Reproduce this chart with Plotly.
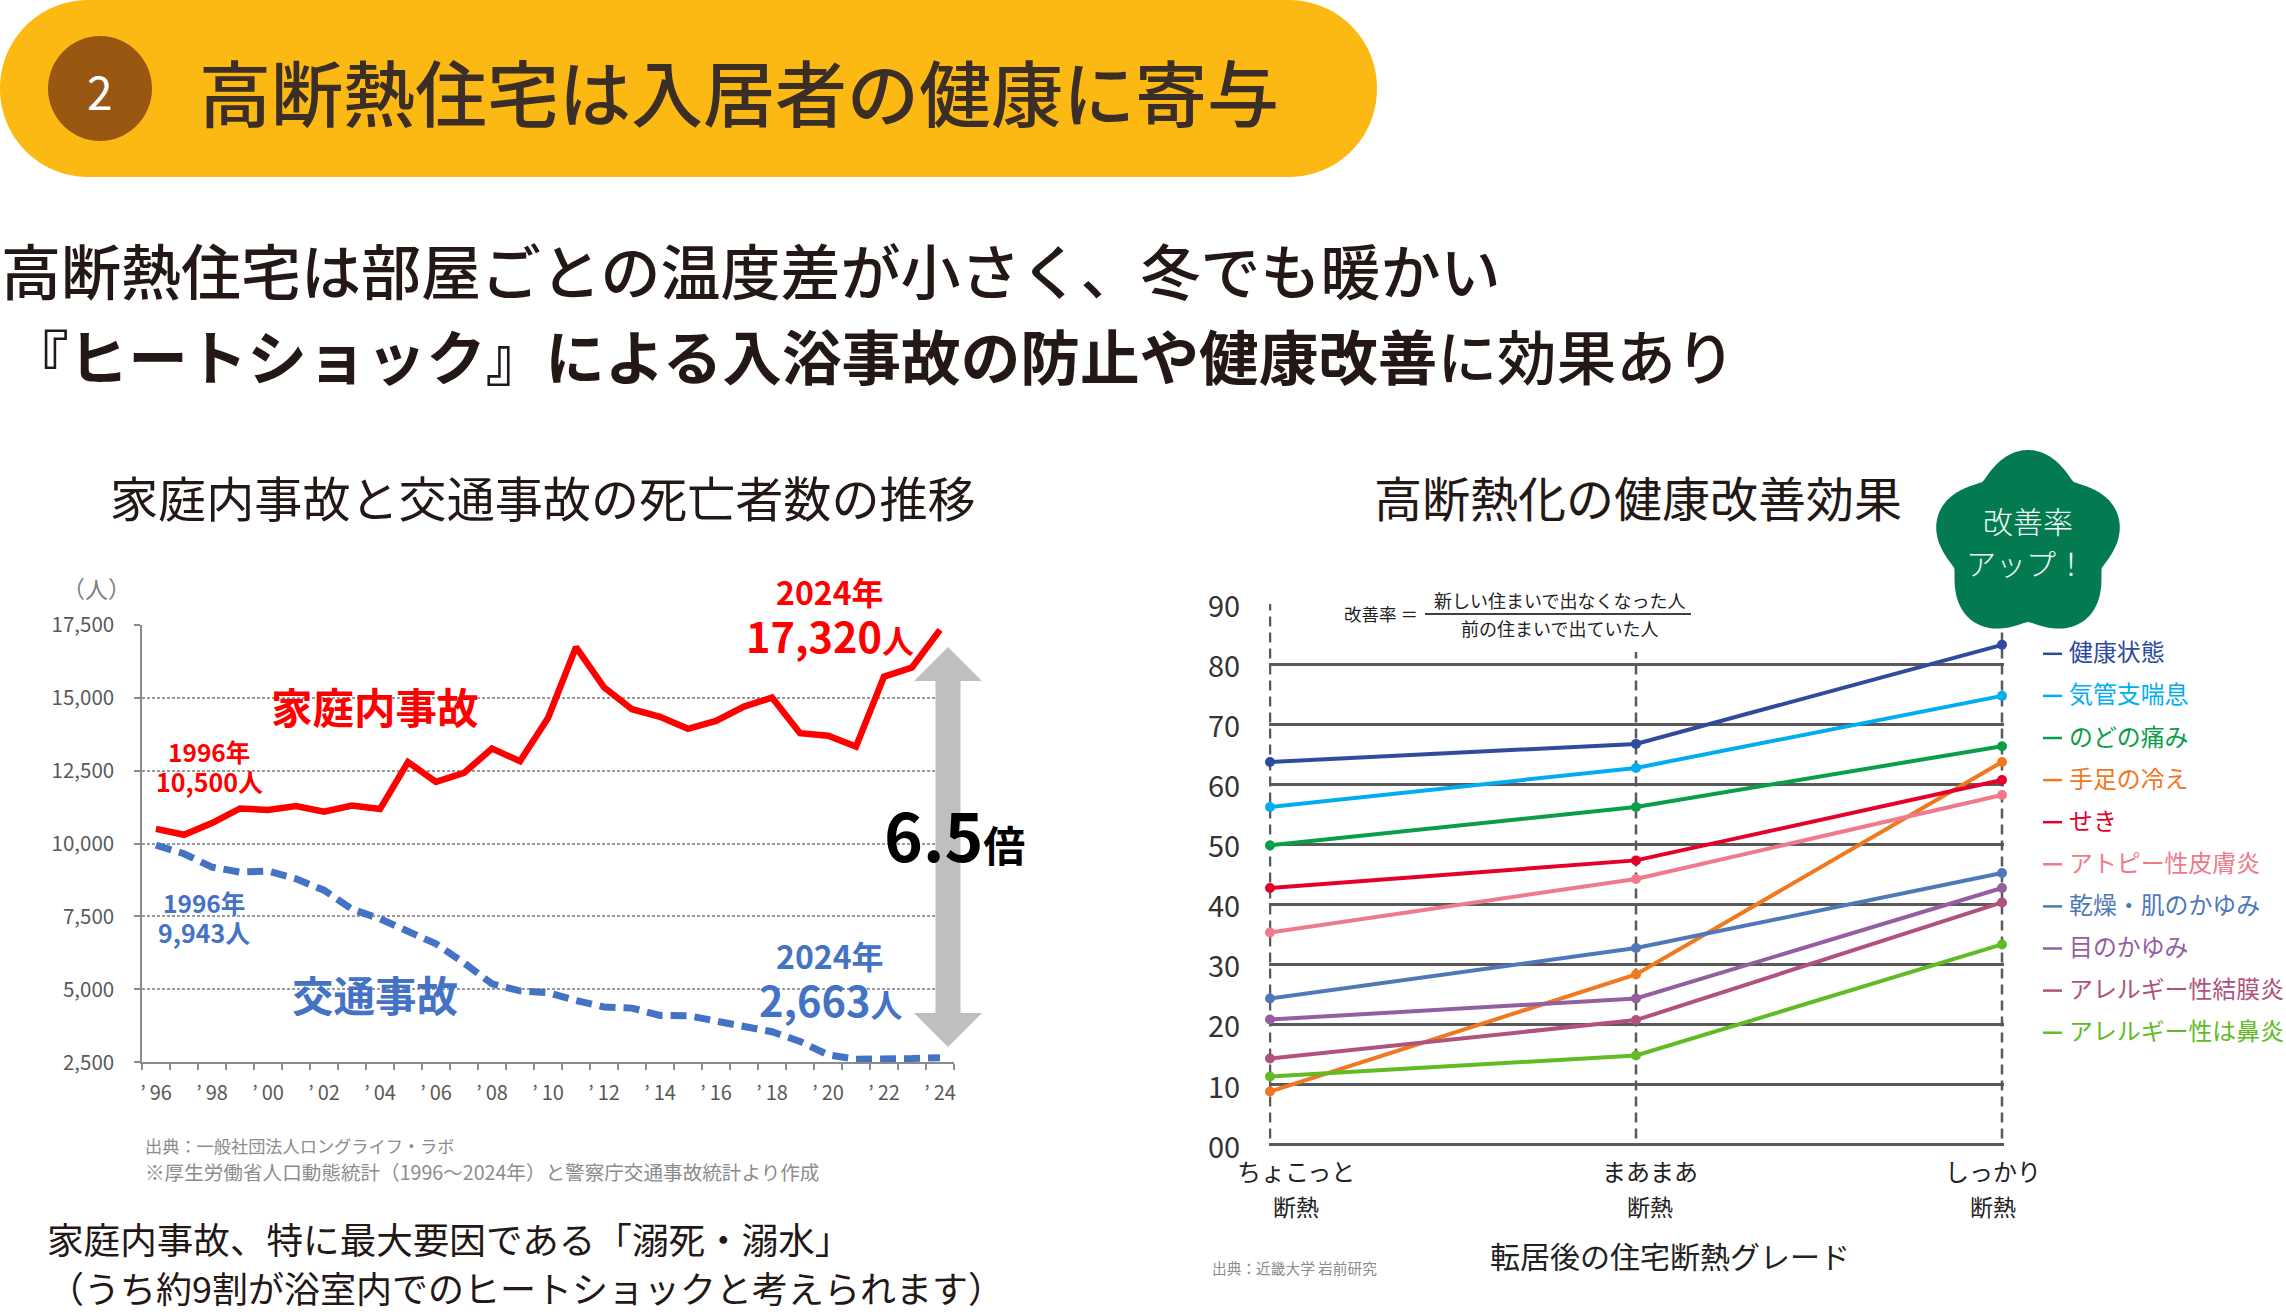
import math
import plotly.graph_objects as go

W, H = 2286, 1314
FONT = "Noto Sans CJK JP"

# ---- left chart data ----
years = [str(y) for y in range(1996, 2025)]
year_ticks = ["’\u2009" + y[2:] if int(y) % 2 == 0 else "" for y in years]
home_deaths = [10500, 10300, 10700, 11200, 11150, 11280, 11090, 11300, 11180, 12790,
               12110, 12420, 13250, 12820, 14300, 16730, 15350, 14600, 14340, 13930,
               14200, 14690, 15000, 13780, 13690, 13320, 15720, 16030, 17320]
traffic_deaths = [9943, 9650, 9190, 9020, 9060, 8790, 8400, 7750, 7420, 7020,
                  6560, 5910, 5190, 4950, 4890, 4620, 4400, 4360, 4110, 4100,
                  3900, 3700, 3550, 3220, 2760, 2610, 2590, 2630, 2663]
left_yticks = [2500, 5000, 7500, 10000, 12500, 15000, 17500]

# ---- right chart data ----
grades = ["ちょこっと断熱", "まあまあ断熱", "しっかり断熱"]
right_yticks = [0, 10, 20, 30, 40, 50, 60, 70, 80, 90]
right_yticktext = ["00", "10", "20", "30", "40", "50", "60", "70", "80", "90"]
symptoms = ["健康状態", "気管支喘息", "のどの痛み", "手足の冷え", "せき",
            "アトピー性皮膚炎", "乾燥・肌のかゆみ", "目のかゆみ", "アレルギー性結膜炎", "アレルギー性は鼻炎"]
kenko = [63.7, 66.7, 83.2]
kikan = [56.2, 62.7, 74.7]
nodo = [49.8, 56.2, 66.3]
teashi = [8.8, 28.3, 63.7]
seki = [42.7, 47.3, 60.7]
atopy = [35.3, 44.2, 58.2]
kanso = [24.3, 32.7, 45.2]
me = [20.8, 24.3, 42.7]
ketsumaku = [14.3, 20.7, 40.3]
bien = [11.3, 14.8, 33.3]
symptom_values = [kenko, kikan, nodo, teashi, seki, atopy, kanso, me, ketsumaku, bien]
symptom_colors = ["#2F4B9E", "#00AEEF", "#0A9E48", "#F0781E", "#E4002B",
                  "#EF7A8C", "#4E78B8", "#945F9E", "#B0527D", "#62BB25"]


def fx(x):
    return x / W


def fy(y):
    return 1 - y / H


annotations = []
TEXT_LIFT = 3


def text(x, y, s, size, color="#222222", anchor="center", weight=400):
    annotations.append(dict(
        x=fx(x), y=fy(y - TEXT_LIFT), xref="paper", yref="paper", text=s, showarrow=False,
        xanchor=anchor, yanchor="middle", align=anchor,
        font=dict(family=FONT, size=size, color=color, weight=weight)))


shapes = []


def poly(points, color, layer="above"):
    path = "M " + " L ".join(f"{fx(x):.5f},{fy(y):.5f}" for x, y in points) + " Z"
    shapes.append(dict(type="path", path=path, xref="paper", yref="paper",
                       fillcolor=color, line=dict(width=0), layer=layer))


def rounded_pill(x0, y0, x1, y1, r, color):
    pts = []
    n = 24
    for cx, cy, a0 in [(x1 - r, y0 + r, -90), (x1 - r, y1 - r, 0), (x0 + r, y1 - r, 90), (x0 + r, y0 + r, 180)]:
        for i in range(n + 1):
            a = math.radians(a0 + 90 * i / n)
            pts.append((cx + r * math.cos(a), cy + r * math.sin(a)))
    poly(pts, color)


# header
rounded_pill(0, 0, 1377, 177, 88, "#FDB913")
shapes.append(dict(type="circle", xref="paper", yref="paper", x0=fx(48), x1=fx(152), y0=fy(36), y1=fy(141),
                   fillcolor="#9A5712", line=dict(width=0), layer="above"))
text(100, 93, "2", 46, "#FFFFFF")
text(197, 92, "高断熱住宅は入居者の健康に寄与", 72, "#3A2E26", "left", 500)

# lead text
text(-1, 271, "高断熱住宅は部屋ごとの温度差が小さく、冬でも暖かい", 60, "#231815", "left", 500)
text(7, 357, "<b>『ヒートショック』による入浴事故の防止や健康改善</b>に効果あり", 59.6, "#231815", "left", 500)

# chart titles
text(543, 499, "家庭内事故と交通事故の死亡者数の推移", 48.1, "#231815")
text(1638, 499, "高断熱化の健康改善効果", 48, "#231815")

# left chart notes
RED, BLUE = "#FF0000", "#4472C4"
text(96, 591, "（人）", 23, "#7F7F7F")
text(830, 594, "<b>2024年</b>", 32, RED)
text(830, 638, "<b>17,320<span style='font-size:32px'>人</span></b>", 41.5, RED)
text(375, 709, "<b>家庭内事故</b>", 41.5, RED)
text(209, 754, "<b>1996年</b>", 24.5, RED)
text(209, 784, "<b>10,500人</b>", 25, RED)
text(204, 905, "<b>1996年</b>", 24.5, BLUE)
text(204, 935, "<b>9,943人</b>", 25, BLUE)
text(375, 997, "<b>交通事故</b>", 41.5, BLUE)
text(830, 958, "<b>2024年</b>", 32, BLUE)
text(830, 1002, "<b>2,663<span style='font-size:32px'>人</span></b>", 41.5, BLUE)
text(954, 836, "<b>6.5<span style='font-size:42px'>倍</span></b>", 66, "#000000")

# grey double arrow
ax, top, bot, hw, hh, sw = 948, 647, 1047, 34, 34, 12.5
poly([(ax, top), (ax + hw, top + hh), (ax + sw, top + hh), (ax + sw, bot - hh), (ax + hw, bot - hh),
      (ax, bot), (ax - hw, bot - hh), (ax - sw, bot - hh), (ax - sw, top + hh), (ax - hw, top + hh)], "#BFBFBF")

# sources and caption
text(143, 1148, "出典：一般社団法人ロングライフ・ラボ", 17.2, "#8C8C8C", "left")
text(143, 1174, "※厚生労働省人口動態統計（1996～2024年）と警察庁交通事故統計より作成", 19.6, "#8C8C8C", "left")
text(45, 1241, "家庭内事故、特に最大要因である「溺死・溺水」", 36.6, "#231815", "left")
text(46, 1290, "（うち約9割が浴室内でのヒートショックと考えられます）", 36, "#231815", "left")

# right chart: formula
shapes.append(dict(type="rect", xref="paper", yref="paper", x0=fx(1332), x1=fx(1704), y0=fy(590), y1=fy(645),
                   fillcolor="#FFFFFF", line=dict(width=0), layer="above"))
shapes.append(dict(type="line", xref="paper", yref="paper", x0=fx(1425), x1=fx(1691), y0=fy(614), y1=fy(614),
                   line=dict(color="#000000", width=1.5), layer="above"))
text(1381, 616, "改善率 ＝", 17.5, "#222222")
text(1559, 603, "新しい住まいで出なくなった人", 18, "#222222")
text(1559, 631, "前の住まいで出ていた人", 18, "#222222")

# right chart: dashed verticals
for grade, top_value in zip(grades, [90, 82, 90]):
    shapes.append(dict(type="line", xref="x2", yref="y2", x0=grade, x1=grade, y0=1, y1=top_value,
                       line=dict(color="#595959", width=2.5, dash="10px,6px"), layer="below"))

# badge
cx, cy, R = 2028, 544.5, 94.5
badge = []
for i in range(360):
    t = math.radians(i)
    k = 0.82 + 0.18 * abs(math.cos(2.5 * t)) ** 1.3
    badge.append((cx + R * k * math.sin(t), cy - R * k * math.cos(t)))
poly(badge, "#047A50")
text(2028, 523, "改善率", 30, "#F0FAF5", weight=300)
text(2026, 565, "アップ！", 30, "#F0FAF5", weight=300)

# legend (coloured names)
for i, (name, color) in enumerate(zip(symptoms, symptom_colors)):
    y = 653.8 + 42.1 * i
    shapes.append(dict(type="line", xref="paper", yref="paper", x0=fx(2043), x1=fx(2062), y0=fy(y), y1=fy(y),
                       line=dict(color=color, width=2.5), layer="above"))
    text(2067, y, name, 23.9, color, "left")

# right chart: category labels
for x, line1 in [(1296, "ちょこっと"), (1650, "まあまあ"), (1993, "しっかり")]:
    text(x, 1173, line1, 24, "#222222")
    text(x, 1209, "断熱", 23, "#222222")
text(1670, 1258, "転居後の住宅断熱グレード", 30, "#222222")
text(1210, 1270, "出典：近畿大学 岩前研究", 14.7, "#8C8C8C", "left")

fig = go.Figure()
fig.add_trace(go.Scatter(x=years, y=home_deaths, mode="lines", name="家庭内事故", xaxis="x", yaxis="y",
                         line=dict(color=RED, width=6.5), cliponaxis=False, showlegend=False))
fig.add_trace(go.Scatter(x=years, y=traffic_deaths, mode="lines", name="交通事故", xaxis="x", yaxis="y",
                         line=dict(color=BLUE, width=7, dash="16px,8px"), cliponaxis=False, showlegend=False))
for name, vals, color in zip(symptoms, symptom_values, symptom_colors):
    fig.add_trace(go.Scatter(x=grades, y=vals, mode="lines+markers", name=name, xaxis="x2", yaxis="y2",
                             line=dict(color=color, width=4), marker=dict(color=color, size=10),
                             cliponaxis=False, showlegend=False))

fig.update_layout(
    width=W, height=H, autosize=False, margin=dict(l=0, r=0, t=0, b=0, pad=0, autoexpand=False),
    paper_bgcolor="#FFFFFF", plot_bgcolor="#FFFFFF", font=dict(family=FONT),
    annotations=annotations, shapes=shapes,
    xaxis=dict(domain=[fx(142), fx(954)], type="category", categoryorder="array", categoryarray=years,
               range=[-0.5, 28.5], tickmode="array", tickvals=years, ticktext=year_ticks,
               tickson="boundaries", ticks="outside", ticklen=6, tickcolor="#8C8C8C", tickwidth=1.5,
               showline=True, linecolor="#8C8C8C", linewidth=1.5, showgrid=False, ticklabelstandoff=12, automargin=False,
               tickangle=0, tickfont=dict(family=FONT, size=20, color="#595959"), anchor="y"),
    yaxis=dict(domain=[fy(1062.4), fy(624.6)], range=[2500, 17500], tickmode="array", tickvals=left_yticks,
               tickformat=",d", ticks="outside", ticklen=6, tickcolor="#8C8C8C", tickwidth=1.5, automargin=False,
               showline=True, linecolor="#8C8C8C", linewidth=1.5, zeroline=False, showgrid=True,
               gridcolor="#999999", gridwidth=1.5, griddash="3px,2px", ticklabelstandoff=16,
               tickfont=dict(family=FONT, size=20.5, color="#595959"), anchor="x"),
    xaxis2=dict(domain=[fx(1269), fx(2004)], type="category", categoryorder="array", categoryarray=grades,
                range=[-1 / 366, 2 + 2 / 366], showticklabels=False, ticks="", showgrid=False, showline=False,
                zeroline=False, anchor="y2", automargin=False),
    yaxis2=dict(domain=[fy(1144.4), fy(604)], range=[0, 90], tickmode="array", tickvals=right_yticks,
                ticktext=right_yticktext, ticks="outside", ticklen=22, tickcolor="rgba(0,0,0,0)", automargin=False,
                ticklabelshift=3, showgrid=True, gridcolor="#595959", gridwidth=3.2, zeroline=True, zerolinecolor="#595959",
                zerolinewidth=3.2, showline=False, tickfont=dict(family=FONT, size=29, color="#333333"), anchor="x2"),
)

fig.write_html("out.html", config=dict(displayModeBar=False),
               post_script="document.body.style.margin='0';document.body.style.overflow='hidden';")
